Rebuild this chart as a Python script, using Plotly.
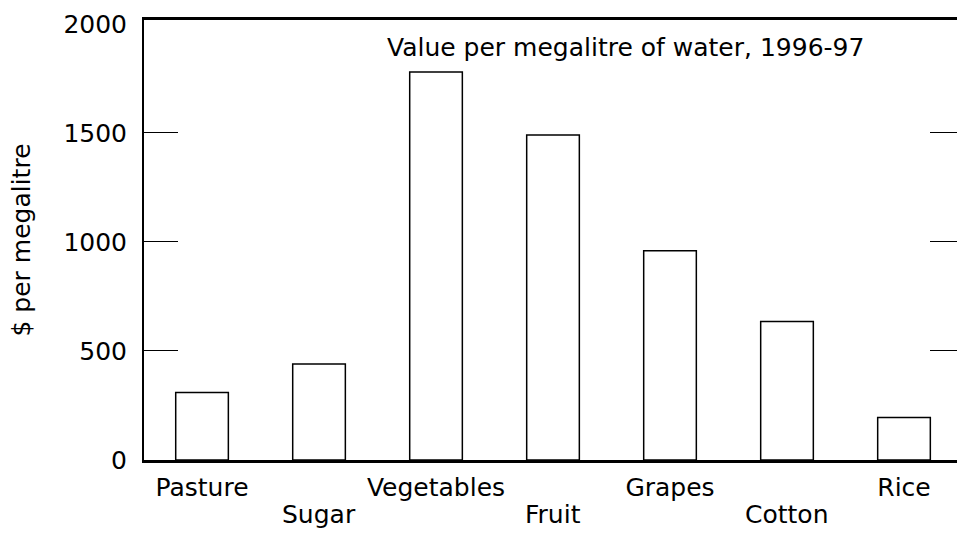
import plotly.graph_objects as go

categories = ["Pasture", "Sugar", "Vegetables", "Fruit", "Grapes", "Cotton", "Rice"]
values = [310, 440, 1780, 1490, 960, 635, 195]
upper_labels = ["Pasture", "Vegetables", "Grapes", "Rice"]
lower_labels = ["Sugar", "Fruit", "Cotton"]
y_tick_vals = [0, 500, 1000, 1500, 2000]
y_tick_text = ["0", "500", "1000", "1500", "2000"]
y_mark_vals = [500, 1000, 1500]
title_text = "Value per megalitre of water, 1996-97"
y_title = "$ per megalitre"

FONT = "DejaVu Sans, Liberation Sans, Arial, sans-serif"
FS = 25
YR = [0, 2018]

fig = go.Figure()
fig.add_trace(go.Bar(
    x=categories, y=values, width=0.45,
    marker=dict(color="white", line=dict(color="black", width=1.5)),
    showlegend=False, hoverinfo="x+y",
))
# invisible copies so that the overlaying tick-mark axes are drawn
for ax in ["y2", "y3"]:
    fig.add_trace(go.Bar(
        x=categories, y=values, width=0.45, yaxis=ax, opacity=0,
        showlegend=False, hoverinfo="skip",
    ))

common_y = dict(range=YR, showgrid=False, zeroline=False, automargin=False)

fig.update_layout(
    width=957, height=536,
    margin=dict(l=144, r=0, t=20, b=76),
    paper_bgcolor="white", plot_bgcolor="white",
    font=dict(family=FONT, size=FS, color="black"),
    barmode="overlay",
    xaxis=dict(
        type="category", categoryorder="array", categoryarray=categories,
        range=[-0.496, 6.453], automargin=False,
        tickmode="array", tickvals=upper_labels, ticktext=upper_labels,
        ticks="", showgrid=False, zeroline=False,
        showline=True, linecolor="black", linewidth=2.5, mirror=True,
        tickfont=dict(family=FONT, size=FS, color="black"),
        ticklabelstandoff=3,
    ),
    yaxis=dict(
        **common_y,
        tickmode="array", tickvals=y_tick_vals, ticktext=y_tick_text,
        ticks="", showline=True, linecolor="black", linewidth=2,
        tickfont=dict(family=FONT, size=FS, color="black"),
        ticklabelstandoff=10,
        title=dict(text=y_title, font=dict(family=FONT, size=FS, color="black"), standoff=26),
    ),
    yaxis2=dict(
        **common_y, overlaying="y", side="right", anchor="x",
        tickmode="array", tickvals=y_mark_vals, ticks="inside", ticklen=27,
        tickwidth=1, tickcolor="black",
        showticklabels=False, showline=False,
    ),
    yaxis3=dict(
        **common_y, overlaying="y", side="left", anchor="x",
        tickmode="array", tickvals=y_mark_vals, ticks="inside", ticklen=34,
        tickwidth=1, tickcolor="black",
        showticklabels=False, showline=False,
    ),
)

for lab in lower_labels:
    fig.add_annotation(
        x=lab, y=0, xref="x", yref="paper", yanchor="top", yshift=-38,
        text=lab, showarrow=False,
        font=dict(family=FONT, size=FS, color="black"),
    )

fig.add_annotation(
    x=0.2964, y=0.9386, xref="paper", yref="paper", xanchor="left", yanchor="middle",
    text=title_text, showarrow=False,
    font=dict(family=FONT, size=FS, color="black"),
)

fig.write_html(
    "out.html",
    config={"displayModeBar": False},
    post_script="document.body.style.margin='0';document.body.style.overflow='hidden';",
)
